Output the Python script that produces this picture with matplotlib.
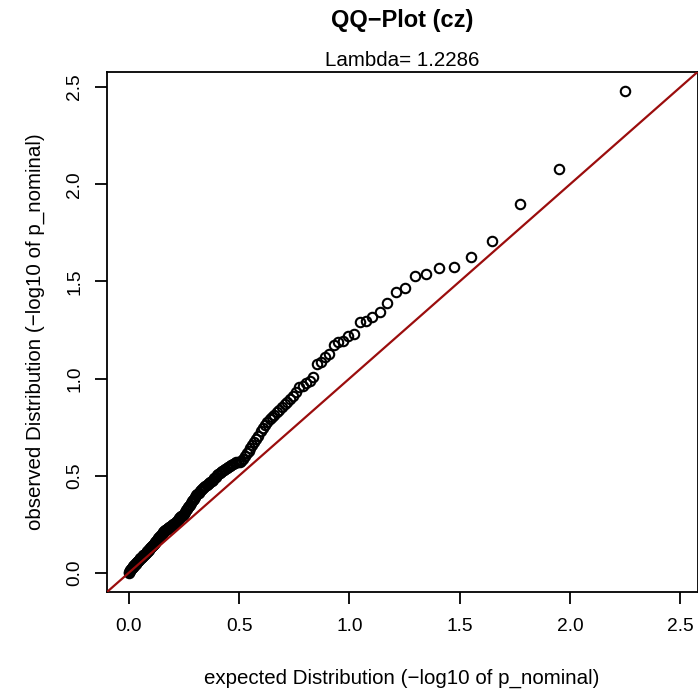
import numpy as np
import matplotlib
matplotlib.use("Agg")
import matplotlib.pyplot as plt

# sorted observed -log10(p_nominal), largest first
observed = [
    2.479, 2.080, 1.900, 1.707, 1.626, 1.574, 1.569, 1.539, 1.527, 1.467,
    1.444, 1.387, 1.341, 1.315, 1.298, 1.289, 1.229, 1.221, 1.195, 1.187,
    1.170, 1.126, 1.109, 1.083, 1.074, 1.006, 0.988, 0.975, 0.962, 0.955,
    0.930, 0.910, 0.895, 0.880, 0.868, 0.855, 0.840, 0.826, 0.810, 0.800,
    0.790, 0.775, 0.760, 0.745, 0.730, 0.705, 0.690, 0.675, 0.660, 0.640,
    0.625, 0.615, 0.600, 0.585, 0.575, 0.572, 0.570, 0.568, 0.566, 0.560,
    0.555, 0.550, 0.545, 0.540, 0.535, 0.530, 0.525, 0.520, 0.515, 0.510,
    0.505, 0.495, 0.487, 0.480, 0.470, 0.465, 0.460, 0.455, 0.450, 0.446,
    0.440, 0.435, 0.430, 0.425, 0.420, 0.412, 0.405, 0.398, 0.390, 0.380,
    0.375, 0.368, 0.360, 0.351, 0.345, 0.338, 0.330, 0.322, 0.315, 0.305,
    0.298, 0.294, 0.290, 0.285, 0.280, 0.276, 0.272, 0.267, 0.262, 0.257,
    0.253, 0.250, 0.246, 0.243, 0.240, 0.237, 0.234, 0.230, 0.227, 0.224,
    0.221, 0.218, 0.215, 0.212, 0.206, 0.200, 0.195, 0.190, 0.186, 0.182,
    0.178, 0.172, 0.167, 0.162, 0.157, 0.153, 0.148, 0.145, 0.142, 0.138,
    0.134, 0.130, 0.126, 0.122, 0.118, 0.114, 0.110, 0.106, 0.102, 0.098,
    0.095, 0.092, 0.089, 0.086, 0.083, 0.080, 0.077, 0.074, 0.070, 0.067,
    0.063, 0.060, 0.057, 0.053, 0.050, 0.047, 0.043, 0.040, 0.037, 0.033,
    0.030, 0.026, 0.022, 0.018, 0.014, 0.010, 0.005, 0.000,
]
lambda_gc = 1.2286
ticks = [0.0, 0.5, 1.0, 1.5, 2.0, 2.5]
tick_labels = ["0.0", "0.5", "1.0", "1.5", "2.0", "2.5"]

obs = np.array(observed)
n = len(obs)
# expected quantiles of a uniform p-value distribution, matched by rank
expected = -np.log10(np.arange(1, n + 1) / n)

plt.rcParams['font.family'] = ['Liberation Sans', 'DejaVu Sans']

W, H = 698, 693
fig = plt.figure(figsize=(W / 100, H / 100), dpi=100)
ax = fig.add_axes([107 / W, 1 - 592 / H, 590.5 / W, 520 / H])

top = max(expected.max(), obs.max())
pad = 0.04 * top
ax.set_xlim(-pad, top + pad)
ax.set_ylim(-pad, top + pad)

ax.plot(expected, obs, linestyle='none', marker='o', markersize=6.8,
        markerfacecolor='none', markeredgecolor='black', markeredgewidth=1.5,
        clip_on=False, zorder=2)
ax.axline((0, 0), slope=1, color='#9b0d0d', linewidth=1.6, zorder=3)

for side in ax.spines.values():
    side.set_linewidth(1.3)
ax.set_xticks(ticks)
ax.set_xticklabels(tick_labels)
ax.set_yticks(ticks)
ax.set_yticklabels(tick_labels, rotation=90, va='center')
ax.tick_params(length=8.6, width=1.3, labelsize=13.8)
ax.tick_params(axis='x', pad=10)
ax.tick_params(axis='y', pad=8.6)

fig.text(402 / W, 1 - 684 / H, 'expected Distribution (\u2212log10 of p_nominal)',
         ha='center', va='baseline', fontsize=14.8)
fig.text(35 / W, 1 - 332 / H, 'observed Distribution (\u2212log10 of p_nominal)',
         ha='center', va='center', rotation=90, fontsize=14.8)

fig.text(402 / W, 1 - 20 / H, 'QQ\u2212Plot (cz)', ha='center', va='center',
         fontsize=17, fontweight='bold')
fig.text(402 / W, 1 - 60 / H, f'Lambda= {lambda_gc}', ha='center', va='center',
         fontsize=14.8)

fig.savefig('out.png', dpi=100)
